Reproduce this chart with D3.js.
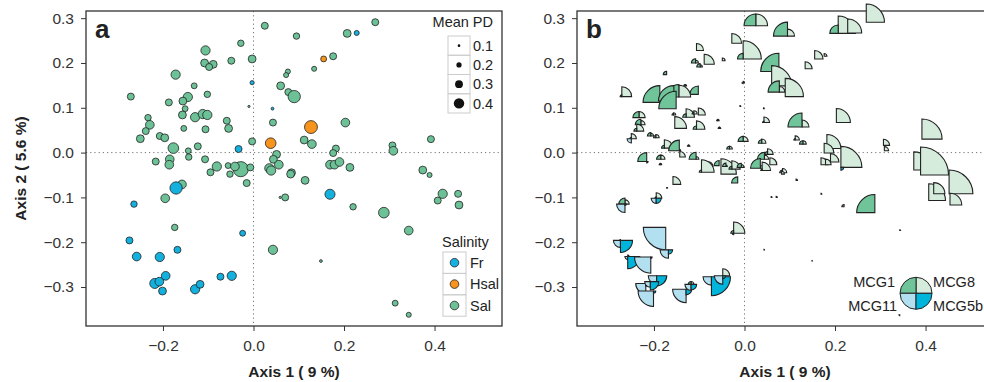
<!DOCTYPE html>
<html>
<head>
<meta charset="utf-8">
<script src="https://cdn.jsdelivr.net/npm/d3@7"></script>
<style>
  body { margin: 0; background: #fff; }
  svg { display: block; font-family: "Liberation Sans", Arial, Helvetica, sans-serif; }
</style>
</head>
<body>
<svg id="chart" width="984" height="382"></svg>
<script>
// sample scores on the first two PCoA axes
const axis1 = [
  -0.271, -0.106, -0.108, -0.089, -0.098, -0.172, -0.131, -0.102, -0.187, -0.145,
  -0.156, -0.151, -0.157, -0.129, -0.112, -0.102, -0.106, -0.059, -0.055, -0.233,
  -0.229, -0.238, -0.250, -0.207, -0.196, -0.154, -0.177, -0.144, -0.123, -0.216,
  -0.185, -0.186, -0.143, -0.107, -0.081, -0.095, -0.056, -0.052, -0.028, -0.041,
  -0.007, -0.015, -0.158, -0.195, -0.174, -0.003, -0.028, -0.049, 0.025, 0.095,
  0.269, 0.207, -0.003, 0.176, 0.134, 0.076, 0.072, 0.060, 0.077, 0.090,
  0.043, 0.203, 0.112, 0.129, 0.392, 0.307, 0.309, 0.182, 0.176, 0.051,
  0.044, 0.056, 0.035, 0.039, 0.169, 0.179, 0.190, 0.213, 0.084, 0.082,
  0.374, 0.389, 0.114, 0.070, 0.220, 0.288, 0.407, 0.418, 0.452, 0.454,
  0.343, 0.043, 0.149, 0.313, 0.343, 0.059, -0.010,
  -0.033, -0.003, 0.228, 0.042, -0.171, 0.169, -0.024, -0.264, -0.274, -0.258,
  -0.207, -0.168, -0.194, -0.218, -0.208, -0.201, -0.129, -0.118, -0.073, -0.048,
  0.155, 0.127, 0.038
];
const axis2 = [
  0.125, 0.228, 0.200, 0.197, 0.191, 0.174, 0.149, 0.130, 0.112, 0.124,
  0.115, 0.098, 0.084, 0.079, 0.086, 0.084, 0.052, 0.071, 0.054, 0.078,
  0.062, 0.048, 0.031, 0.037, 0.033, 0.054, 0.010, 0.004, 0.014, -0.020,
  -0.015, -0.027, -0.010, -0.015, -0.031, -0.044, -0.029, -0.048, -0.037, -0.031,
  -0.033, -0.068, -0.071, -0.102, -0.167, 0.025, 0.244, 0.205, 0.283, 0.260,
  0.291, 0.266, 0.209, 0.215, 0.187, 0.181, 0.173, 0.149, 0.135, 0.125,
  0.067, 0.067, 0.028, 0.019, 0.030, 0.016, 0.004, 0.009, -0.001, -0.004,
  -0.015, -0.027, -0.035, -0.040, -0.027, -0.027, -0.021, -0.033, -0.045, -0.048,
  -0.039, -0.050, -0.062, -0.100, -0.121, -0.134, -0.107, -0.092, -0.092, -0.117,
  -0.174, -0.217, -0.242, -0.336, -0.362, -0.100, 0.103,
  0.008, 0.156, 0.267, 0.098, -0.079, -0.093, -0.180, -0.115, -0.196, -0.232,
  -0.233, -0.217, -0.275, -0.292, -0.288, -0.309, -0.305, -0.294, -0.277, -0.275,
  0.209, 0.057, 0.021
];
const meanPD = [
  .25, .33, .28, .28, .25, .33, .21, .23, .25, .33,
  .28, .21, .28, .33, .33, .33, .25, .25, .28, .23,
  .31, .25, .28, .25, .28, .21, .38, .21, .25, .25,
  .31, .31, .23, .25, .33, .25, .21, .23, .54, .31,
  .25, .25, .31, .31, .23, .25, .23, .25, .25, .23,
  .25, .28, .28, .25, .18, .18, .18, .28, .25, .44,
  .25, .31, .28, .31, .25, .25, .31, .25, .25, .28,
  .28, .31, .33, .33, .31, .31, .31, .28, .28, .28,
  .28, .18, .28, .25, .23, .38, .25, .33, .25, .28,
  .31, .33, .10, .21, .18, .08, .08,
  .25, .15, .18, .10, .44, .36, .21, .23, .25, .31,
  .33, .25, .31, .36, .31, .28, .33, .28, .25, .33,
  .21, .46, .38
];
const salinity = [
  "Sal","Sal","Sal","Sal","Sal","Sal","Sal","Sal","Sal","Sal",
  "Sal","Sal","Sal","Sal","Sal","Sal","Sal","Sal","Sal","Sal",
  "Sal","Sal","Sal","Sal","Sal","Sal","Sal","Sal","Sal","Sal",
  "Sal","Sal","Sal","Sal","Sal","Sal","Sal","Sal","Sal","Sal",
  "Sal","Sal","Sal","Sal","Sal","Sal","Sal","Sal","Sal","Sal",
  "Sal","Sal","Sal","Sal","Sal","Sal","Sal","Sal","Sal","Sal",
  "Sal","Sal","Sal","Sal","Sal","Sal","Sal","Sal","Sal","Sal",
  "Sal","Sal","Sal","Sal","Sal","Sal","Sal","Sal","Sal","Sal",
  "Sal","Sal","Sal","Sal","Sal","Sal","Sal","Sal","Sal","Sal",
  "Sal","Sal","Sal","Sal","Sal","Sal","Sal",
  "Fr","Fr","Fr","Fr","Fr","Fr","Fr","Fr","Fr","Fr",
  "Fr","Fr","Fr","Fr","Fr","Fr","Fr","Fr","Fr","Fr",
  "Hsal","Hsal","Hsal"
];
// relative abundance of the four MCG subgroups per sample
const mcg1 = [
  0.06, 0, 0.15, 0, 0.12, 0.12, 0.05, 0.30, 0.60, 0.45,
  0.55, 0.62, 0.05, 0.12, 0.06, 0, 0.12, 0.04, 0.05, 0.22,
  0.20, 0.10, 0.05, 0.12, 0.08, 0, 0.10, 0.38, 0.05, 0.32,
  0.15, 0.04, 0, 0.25, 0.10, 0.08, 0.18, 0, 0.10, 0.12,
  0.15, 0.22, 0, 0.05, 0, 0.18, 0, 0, 0.42, 0.50,
  0, 0.30, 0.20, 0, 0, 0.65, 0, 0, 0.40, 0,
  0.05, 0, 0.05, 0.12, 0, 0, 0, 0, 0, 0.10,
  0.25, 0, 0.35, 0.05, 0, 0, 0, 0, 0.10, 0,
  0, 0, 0, 0, 0.08, 0.65, 0, 0, 0, 0,
  0, 0, 0, 0, 0, 0, 0,
  0.10, 0, 0, 0, 0.02, 0, 0.10, 0.22, 0.03, 0,
  0, 0, 0, 0, 0, 0, 0, 0.10, 0, 0,
  0, 0.50, 0.12
];
const mcg8 = [
  0.35, 0.25, 0.10, 0.36, 0.08, 0, 0.05, 0, 0, 0.42,
  0, 0, 0.08, 0.30, 0.12, 0.25, 0.30, 0.05, 0.04, 0.22,
  0.15, 0.25, 0.18, 0.10, 0.12, 0.42, 0.30, 0.05, 0.04, 0,
  0.15, 0.05, 0.20, 0.10, 0.18, 0.45, 0, 0.55, 0.30, 0.05,
  0.10, 0, 0.28, 0.20, 0, 0.18, 0.35, 0.10, 0.42, 0.25,
  0.65, 0.62, 0.65, 0.10, 0.25, 0, 0.10, 0.72, 0.20, 0.65,
  0.20, 0.50, 0.15, 0.12, 0.72, 0.22, 0.15, 0.50, 0.35, 0.20,
  0.15, 0.25, 0.10, 0.30, 0.25, 0.20, 0.30, 0.75, 0.15, 0.10,
  0.65, 1.00, 0.05, 0.04, 0, 0, 0.60, 0.40, 0.85, 0.42,
  0.03, 0.02, 0.02, 0.02, 0, 0.03, 0.03,
  0.10, 0.05, 0.50, 0.03, 0.02, 0.03, 0.40, 0.15, 0, 0.05,
  0, 0, 0, 0, 0, 0, 0, 0.10, 0, 0.25,
  0.30, 0.25, 0.15
];
const mcg11 = [
  0, 0, 0, 0, 0, 0, 0, 0, 0, 0,
  0, 0, 0, 0, 0, 0, 0, 0, 0, 0,
  0.10, 0, 0.15, 0, 0, 0, 0, 0, 0, 0,
  0, 0, 0, 0, 0, 0, 0, 0, 0, 0,
  0, 0, 0, 0.18, 0.80, 0, 0, 0, 0, 0,
  0, 0, 0, 0, 0, 0, 0, 0, 0, 0,
  0, 0, 0, 0, 0, 0, 0, 0, 0, 0,
  0, 0, 0, 0, 0, 0, 0, 0, 0, 0,
  0, 0, 0, 0, 0, 0, 0, 0, 0, 0,
  0, 0, 0, 0, 0.03, 0, 0,
  0, 0.04, 0, 0, 0, 0, 0.05, 0.30, 0.25, 0.10,
  0.58, 0.30, 0.30, 0.36, 0.20, 0.55, 0.48, 0.22, 0.30, 0.30,
  0, 0, 0
];
const mcg5b = [
  0, 0, 0, 0, 0, 0, 0, 0, 0, 0,
  0, 0, 0, 0, 0, 0, 0, 0, 0, 0,
  0, 0, 0, 0, 0, 0, 0, 0, 0, 0.05,
  0, 0, 0, 0, 0, 0, 0, 0, 0, 0,
  0, 0, 0, 0.18, 0, 0, 0, 0, 0, 0,
  0, 0, 0, 0, 0, 0, 0, 0, 0, 0,
  0, 0, 0, 0, 0, 0, 0, 0, 0, 0,
  0, 0, 0, 0, 0, 0, 0, 0.10, 0, 0,
  0, 0, 0, 0, 0, 0, 0, 0, 0, 0,
  0, 0, 0, 0, 0, 0, 0,
  0, 0, 0, 0, 0, 0, 0, 0.05, 0.43, 0.43,
  0.05, 0.15, 0.36, 0.10, 0.30, 0.08, 0.20, 0.20, 0.68, 0.10,
  0, 0, 0
];
const xTicks = [-0.2, 0.0, 0.2, 0.4];
const yTicks = [-0.3, -0.2, -0.1, 0.0, 0.1, 0.2, 0.3];
const salinityLevels = ["Fr", "Hsal", "Sal"];
const pdLevels = [0.1, 0.2, 0.3, 0.4];
const mcgNames = ["MCG1", "MCG8", "MCG11", "MCG5b"];
const keyPos = [0.379, -0.314];

const salColor = d3.scaleOrdinal().domain(salinityLevels).range(["#14b0de", "#f7941d", "#6cc296"]);
const pdRadius = d3.scaleLinear().domain([0, 1]).range([0, 14]);
const segRadius = d3.scaleLinear().domain([0, 1]).range([0, 28]);
const fmt = d3.format(".1f");

const svg = d3.select("#chart");
const plotTop = 11, plotBottom = 326, plotW = 416;
const xDomain = [-0.370, 0.549], yDomain = [-0.387, 0.316];

function buildPanel(left, label, withYTitle) {
  const x = d3.scaleLinear().domain(xDomain).range([left, left + plotW]);
  const y = d3.scaleLinear().domain(yDomain).range([plotBottom, plotTop]);
  const g = svg.append("g");

  g.append("line").attr("x1", x(0)).attr("x2", x(0)).attr("y1", plotTop).attr("y2", plotBottom)
    .attr("stroke", "#777").attr("stroke-dasharray", "1.2,3");
  g.append("line").attr("x1", left).attr("x2", left + plotW).attr("y1", y(0)).attr("y2", y(0))
    .attr("stroke", "#777").attr("stroke-dasharray", "1.2,3");

  const xa = g.append("g").attr("transform", `translate(0,${plotBottom})`)
    .call(d3.axisBottom(x).tickValues(xTicks).tickSize(5).tickPadding(8.5).tickFormat(fmt));
  const ya = g.append("g").attr("transform", `translate(${left},0)`)
    .call(d3.axisLeft(y).tickValues(yTicks).tickSize(5).tickPadding(7).tickFormat(fmt));
  [xa, ya].forEach(a => {
    a.select(".domain").remove();
    a.attr("font-family", null);
    a.selectAll("line").attr("stroke", "#333");
    a.selectAll("text").attr("fill", "#333").style("font-size", "15.5px");
  });

  g.append("rect").attr("x", left).attr("y", plotTop).attr("width", plotW).attr("height", plotBottom - plotTop)
    .attr("fill", "none").attr("stroke", "#333").attr("stroke-width", 1.3);

  g.append("text").attr("x", left + 9).attr("y", 38).text(label)
    .attr("font-size", 26).attr("font-weight", "bold").attr("fill", "#222");

  g.append("text").attr("x", left + plotW / 2).attr("y", 377).attr("text-anchor", "middle")
    .attr("font-size", 15.5).attr("font-weight", "bold").attr("fill", "#222").text("Axis 1 ( 9 %)");
  if (withYTitle) {
    g.append("text").attr("transform", `translate(26,${(plotTop + plotBottom) / 2}) rotate(-90)`)
      .attr("text-anchor", "middle").attr("font-size", 15.5).attr("font-weight", "bold")
      .attr("fill", "#222").text("Axis 2 ( 5.6 %)");
  }
  return { g, x, y };
}

const idx = d3.range(axis1.length);

// ---- panel a: circles sized by mean PD, coloured by salinity
const A = buildPanel(86, "a", true);
A.g.append("g").selectAll("circle").data(idx).enter().append("circle")
  .attr("cx", i => A.x(axis1[i])).attr("cy", i => A.y(axis2[i]))
  .attr("r", i => pdRadius(meanPD[i]))
  .attr("fill", i => salColor(salinity[i]))
  .attr("stroke", "#222").attr("stroke-width", 0.8);

// mean PD legend
const pdLeg = A.g.append("g");
pdLeg.append("text").attr("x", 493).attr("y", 27).attr("text-anchor", "end")
  .attr("font-size", 14.5).attr("fill", "#222").text("Mean PD");
const rowH = 19.25;
pdLevels.forEach((v, k) => {
  const yc = 36 + rowH * k;
  pdLeg.append("rect").attr("x", 448).attr("y", yc).attr("width", 22).attr("height", rowH)
    .attr("fill", "none").attr("stroke", "#ccc");
  pdLeg.append("circle").attr("cx", 459).attr("cy", yc + rowH / 2).attr("r", pdRadius(v) * 0.93).attr("fill", "#111");
  pdLeg.append("text").attr("x", 473).attr("y", yc + rowH / 2).attr("dy", "0.36em")
    .attr("font-size", 14.5).attr("fill", "#222").text(fmt(v));
});

// salinity legend
const salLeg = A.g.append("g");
salLeg.append("text").attr("x", 442).attr("y", 247).attr("font-size", 14.5).attr("fill", "#222").text("Salinity");
const salH = 21.4;
salinityLevels.forEach((s, k) => {
  const yc = 252 + salH * k;
  salLeg.append("rect").attr("x", 443).attr("y", yc).attr("width", 23).attr("height", salH)
    .attr("fill", "none").attr("stroke", "#ccc");
  salLeg.append("circle").attr("cx", 454.5).attr("cy", yc + salH / 2).attr("r", 4.3)
    .attr("fill", salColor(s)).attr("stroke", "#222").attr("stroke-width", 0.8);
  salLeg.append("text").attr("x", 470).attr("y", yc + salH / 2).attr("dy", "0.36em")
    .attr("font-size", 14.5).attr("fill", "#222").text(s);
});

// ---- panel b: segment glyphs, one quarter per MCG subgroup
const B = buildPanel(577, "b", false);
const quarters = [
  { values: mcg8, color: "#d5ecdc", start: 0 },
  { values: mcg1, color: "#6fc49a", start: 1.5 * Math.PI },
  { values: mcg11, color: "#b3e0f0", start: Math.PI },
  { values: mcg5b, color: "#00b5dc", start: 0.5 * Math.PI }
];
const arc = d3.arc().innerRadius(0);
const glyphs = B.g.append("g").selectAll("g").data(idx).enter().append("g")
  .attr("transform", i => `translate(${B.x(axis1[i])},${B.y(axis2[i])})`);
quarters.forEach(q => {
  glyphs.filter(i => q.values[i] > 0).append("path")
    .attr("d", i => arc({ outerRadius: segRadius(q.values[i]), startAngle: q.start, endAngle: q.start + Math.PI / 2 }))
    .attr("fill", q.color).attr("stroke", "#222").attr("stroke-width", 1.1);
});

// key glyph
const keyR = 16;
const kx = B.x(keyPos[0]), ky = B.y(keyPos[1]);
const key = B.g.append("g").attr("transform", `translate(${kx},${ky})`);
quarters.forEach(q => {
  key.append("path")
    .attr("d", arc({ outerRadius: keyR, startAngle: q.start, endAngle: q.start + Math.PI / 2 }))
    .attr("fill", q.color).attr("stroke", "#222").attr("stroke-width", 1);
});
const keyLabels = [
  { t: mcgNames[0], dx: -21, dy: -6, anchor: "end" },
  { t: mcgNames[1], dx: 17, dy: -6, anchor: "start" },
  { t: mcgNames[2], dx: -19, dy: 18, anchor: "end" },
  { t: mcgNames[3], dx: 17, dy: 18, anchor: "start" }
];
keyLabels.forEach(l => {
  key.append("text").attr("x", l.dx).attr("y", l.dy).attr("text-anchor", l.anchor)
    .attr("font-size", 14.5).attr("fill", "#222").text(l.t);
});
</script>
</body>
</html>
